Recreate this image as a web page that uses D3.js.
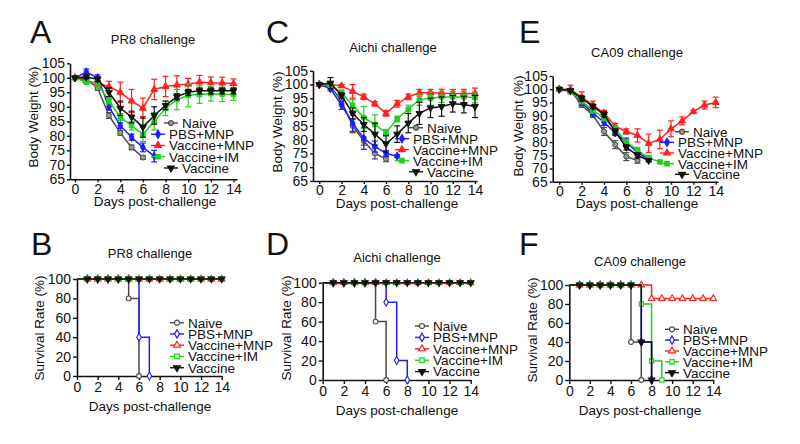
<!DOCTYPE html>
<html>
<head>
<meta charset="utf-8">
<script src="https://d3js.org/d3.v7.min.js"></script>
<style>
body { margin: 0; background: #fff; }
text { font-family: Arial, "Liberation Sans", sans-serif; fill: #111; }
</style>
</head>
<body>
<script>
// groups and colours
const groups = ["Naive", "PBS+MNP", "Vaccine+MNP", "Vaccine+IM", "Vaccine"];
const colors = ["#4a4a4a", "#1c1cff", "#ff1f1f", "#1fd01f", "#111111"];

// tick labels
const dayTicks = [0, 2, 4, 6, 8, 10, 12, 14];
const weightTicks = [65, 70, 75, 80, 85, 90, 95, 100, 105];
const survivalTicks = [0, 20, 40, 60, 80, 100];

// body weight (%) from day 0, one row per group; rows stop on the last day measured
const pr8Mean = [
    [100, 99.5, 96.5, 87, 81, 76, 72.5],
    [100, 102, 100, 90, 83.5, 79.5, 76, 73],
    [100, 99, 98, 97, 95, 92, 89.5, 96, 97, 97.5, 97.8, 98.5, 98.3, 98.2, 98],
    [100, 98.5, 98, 92, 86.5, 83.5, 80.5, 85, 89.5, 92.5, 94, 94.2, 94.5, 94.3, 94.2],
    [100, 100.3, 99.5, 95, 89.5, 86.5, 83, 87, 90.5, 93.5, 95, 95.5, 95.5, 95.5, 95.5]
];
const pr8Sd = [
    [0, 0.5, 0.8, 1, 0.8, 0.8, 0.6],
    [0, 1, 1, 1, 1, 1, 1.5, 2],
    [0, 0.5, 1, 1.8, 3.5, 4, 3.5, 3.5, 3.5, 3.2, 2, 2.3, 2, 2, 1.6],
    [0, 0.6, 0.8, 1, 1.2, 1.5, 2.5, 3, 2.5, 3.5, 4, 3, 2.5, 2.5, 2],
    [0, 0.6, 0.8, 1.5, 2.5, 2, 3.5, 3, 1.5, 1, 1, 1, 1, 1, 1]
];
const aichiMean = [
    [100, 99.5, 94, 85, 79.5, 75, 73],
    [100, 98.5, 92.5, 86, 80.5, 77.5, 75, 74],
    [100, 100, 99.5, 97.5, 95.5, 93, 89.5, 93, 95.5, 97, 97, 96.8, 96.7, 96.7, 96.7],
    [100, 99.8, 97, 92.5, 88, 85.5, 82.5, 87.5, 91, 94.5, 95, 95.5, 95.5, 95.5, 95.3],
    [100, 100.5, 96, 89.5, 85.5, 82, 78.5, 82, 86, 89.5, 91.5, 92, 93, 92.7, 92]
];
const aichiSd = [
    [0, 0.5, 1, 2.5, 1.5, 2, 1],
    [0, 0.8, 1.5, 3, 4, 2, 1, 0.5],
    [0, 0.5, 0.5, 2.5, 1, 0.8, 1, 1.2, 1, 1.2, 1.2, 1.5, 1.5, 1.5, 2],
    [0, 0.5, 1, 2, 4, 3.5, 1.2, 1, 1.5, 2, 2.5, 2, 2, 2, 2],
    [0, 2, 1, 2, 2.5, 4, 3, 3, 3.5, 4, 3.5, 3.5, 3, 3, 4]
];
const ca09Mean = [
    [100, 99.5, 94, 90.2, 84, 79, 74.5, 73],
    [100, 99.5, 95, 91, 87.5, 83.5, 80, 76, 73.5],
    [100, 100, 97, 94, 91, 86, 84, 82.5, 79.5, 81, 85, 88, 91.5, 94, 95],
    [100, 99, 95.5, 92, 89, 85, 80, 77, 74, 72.5],
    [100, 99.5, 96.5, 93.5, 90.5, 84, 78, 75, 73]
];
const ca09Sd = [
    [0, 0.5, 0.8, 0.8, 1.5, 1.5, 1.5, 1],
    [0, 0.5, 1, 1, 1.2, 1, 1.5, 1, 0.8],
    [0, 1.5, 2, 1.5, 1, 1, 1, 2.5, 3.5, 3.5, 3, 1.5, 0.5, 1.5, 2],
    [0, 0.5, 1, 1, 1, 1, 1, 1, 1, 0.5],
    [0, 0.5, 1, 0.8, 1, 1, 1, 1, 0.5]
];

// survival (%) from day 0
const pr8Surv = [
    [100, 100, 100, 100, 100, 80, 0],
    [100, 100, 100, 100, 100, 100, 40, 0],
    [100, 100, 100, 100, 100, 100, 100, 100, 100, 100, 100, 100, 100, 100, 100],
    [100, 100, 100, 100, 100, 100, 100, 100, 100, 100, 100, 100, 100, 100, 100],
    [100, 100, 100, 100, 100, 100, 100, 100, 100, 100, 100, 100, 100, 100, 100]
];
const aichiSurv = [
    [100, 100, 100, 100, 100, 60, 0],
    [100, 100, 100, 100, 100, 100, 80, 20, 0],
    [100, 100, 100, 100, 100, 100, 100, 100, 100, 100, 100, 100, 100, 100, 100],
    [100, 100, 100, 100, 100, 100, 100, 100, 100, 100, 100, 100, 100, 100, 100],
    [100, 100, 100, 100, 100, 100, 100, 100, 100, 100, 100, 100, 100, 100, 100]
];
const ca09Surv = [
    [100, 100, 100, 100, 100, 100, 40, 0],
    [100, 100, 100, 100, 100, 100, 100, 40, 0],
    [100, 100, 100, 100, 100, 100, 100, 100, 85.7, 85.7, 85.7, 85.7, 85.7, 85.7, 85.7],
    [100, 100, 100, 100, 100, 100, 100, 80, 20, 0],
    [100, 100, 100, 100, 100, 100, 100, 40, 0]
];

const svg = d3.select("body").append("svg")
    .attr("width", 800)
    .attr("height", 444);

// marker path for group i
function marker(i, size) {
    const types = [d3.symbolCircle, d3.symbolDiamond, d3.symbolTriangle, d3.symbolSquare, d3.symbolTriangle];
    return d3.symbol().type(types[i]).size(size)();
}
function markerRot(i) { return i == 4 ? " rotate(180)" : ""; }

function styleAxis(a, fs) {
    a.attr("font-size", fs);
    a.selectAll("path.domain").attr("stroke", "#111").attr("stroke-width", 1.6);
    a.selectAll(".tick line").attr("stroke", "#111").attr("stroke-width", 1.4);
    a.selectAll(".tick text").attr("font-size", fs).attr("fill", "#111")
        .style("font-family", "Arial, 'Liberation Sans', sans-serif");
}

function drawLabels(p) {
    svg.append("text").attr("x", p.letter[1]).attr("y", p.letter[2])
        .attr("font-size", 32).text(p.letter[0]);
    svg.append("text").attr("x", p.title[1]).attr("y", p.title[2])
        .attr("text-anchor", "middle").attr("font-size", 13).text(p.title[0]);
    svg.append("text").attr("x", p.xLabel[0]).attr("y", p.xLabel[1])
        .attr("text-anchor", "middle").attr("dy", "0.35em").attr("font-size", 13.5)
        .text("Days post-challenge");
    svg.append("text")
        .attr("transform", "translate(" + p.yLabel[1] + "," + p.yLabel[2] + ") rotate(-90)")
        .attr("text-anchor", "middle").attr("dy", "0.35em").attr("font-size", 13.5)
        .text(p.yLabel[0]);
}

function drawLegend(p, open) {
    const lg = svg.append("g");
    groups.forEach(function(name, i) {
        const tx = p.legend.x + (p.legend.indent ? p.legend.indent[i] : 0);
        const yy = p.legend.y + i * p.legend.step;
        lg.append("line").attr("x1", tx - 18).attr("x2", tx - 4)
            .attr("y1", yy).attr("y2", yy)
            .attr("stroke", colors[i]).attr("stroke-width", 1.4);
        lg.append("path").attr("d", marker(i, open ? 20 : 20))
            .attr("transform", "translate(" + (tx - 11) + "," + yy + ")" + markerRot(i))
            .attr("fill", open && i < 4 ? "#fff" : (i == 0 ? "#999" : colors[i]))
            .attr("stroke", colors[i]).attr("stroke-width", 1.2);
        lg.append("text").attr("x", tx).attr("y", yy).attr("dy", "0.36em")
            .attr("font-size", 13.5).text(name);
    });
}

function drawWeight(p) {
    // day 0 sits at p.x0, day 14 at p.x14, axis line spans p.xRange
    const perDay = (p.x14 - p.x0) / 14;
    const x = d3.scaleLinear()
        .domain([-(p.x0 - p.xRange[0]) / perDay, 14 + (p.xRange[1] - p.x14) / perDay])
        .range(p.xRange);
    const y = d3.scaleLinear().domain([65, 105]).range(p.yRange);

    const ax = svg.append("g").attr("transform", "translate(0," + p.yRange[0] + ")")
        .call(d3.axisBottom(x).tickValues(dayTicks).tickSize(3).tickPadding(1.5).tickSizeOuter(0));
    styleAxis(ax, 14);
    const ay = svg.append("g").attr("transform", "translate(" + p.xRange[0] + ",0)")
        .call(d3.axisLeft(y).tickValues(weightTicks).tickSize(3).tickPadding(2).tickSizeOuter(0));
    styleAxis(ay, 14);

    const line = d3.line().x(function(d, j) { return x(j); }).y(function(d) { return y(d); });
    p.mean.forEach(function(m, i) {
        const g = svg.append("g");
        g.append("path").attr("d", line(m)).attr("fill", "none")
            .attr("stroke", colors[i]).attr("stroke-width", 1.5);
        m.forEach(function(v, j) {
            const s = p.sd[i][j];
            if (s > 0) {
                g.append("line").attr("x1", x(j)).attr("x2", x(j))
                    .attr("y1", y(v - s)).attr("y2", y(v + s))
                    .attr("stroke", colors[i]).attr("stroke-width", 1.2);
                [v - s, v + s].forEach(function(e) {
                    g.append("line").attr("x1", x(j) - 3).attr("x2", x(j) + 3)
                        .attr("y1", y(e)).attr("y2", y(e))
                        .attr("stroke", colors[i]).attr("stroke-width", 1.2);
                });
            }
            g.append("path").attr("d", marker(i, 20))
                .attr("transform", "translate(" + x(j) + "," + y(v) + ")" + markerRot(i))
                .attr("fill", i == 0 ? "#999" : colors[i])
                .attr("stroke", colors[i]).attr("stroke-width", 1);
        });
    });
    drawLegend(p, false);
    drawLabels(p);
}

function drawSurvival(p) {
    const x = d3.scaleLinear().domain([0, 14]).range(p.xRange);
    const y = d3.scaleLinear().domain([0, 100]).range(p.yRange);

    const ax = svg.append("g").attr("transform", "translate(0," + p.yRange[0] + ")")
        .call(d3.axisBottom(x).tickValues(dayTicks).tickSize(4).tickPadding(2).tickSizeOuter(0));
    styleAxis(ax, 14);
    const ay = svg.append("g").attr("transform", "translate(" + p.xRange[0] + ",0)")
        .call(d3.axisLeft(y).tickValues(survivalTicks).tickSize(4).tickPadding(2).tickSizeOuter(0));
    styleAxis(ay, 14);

    const line = d3.line().curve(d3.curveStepAfter)
        .x(function(d, j) { return x(j); }).y(function(d) { return y(d); });
    p.surv.forEach(function(s, i) {
        const g = svg.append("g");
        g.append("path").attr("d", line(s)).attr("fill", "none")
            .attr("stroke", colors[i]).attr("stroke-width", 1.5);
        s.forEach(function(v, j) {
            if (j == 0) return;
            g.append("path").attr("d", marker(i, 18))
                .attr("transform", "translate(" + x(j) + "," + y(v) + ")" + markerRot(i))
                .attr("fill", i == 4 ? colors[i] : "#fff")
                .attr("stroke", colors[i]).attr("stroke-width", 1.1);
        });
    });
    drawLegend(p, true);
    drawLabels(p);
}

drawWeight({
    mean: pr8Mean, sd: pr8Sd,
    xRange: [70, 237], x0: 75, x14: 233.5, yRange: [179.3, 63.3],
    legend: {x: 169, y: 123, step: 11.25, indent: [13, 0, 0, 0, 13]},
    letter: ["A", 30, 43], title: ["PR8 challenge", 153, 44],
    xLabel: [155, 201], yLabel: ["Body Weight (%)", 33, 117]
});
drawWeight({
    mean: aichiMean, sd: aichiSd,
    xRange: [313, 477], x0: 319.3, x14: 475, yRange: [181, 70.7],
    legend: {x: 413, y: 127.7, step: 11, indent: [14, 0, 0, 0, 14]},
    letter: ["C", 266, 43], title: ["Aichi challenge", 393, 52],
    xLabel: [397, 203], yLabel: ["Body Weight (%)", 277, 122]
});
drawWeight({
    mean: ca09Mean, sd: ca09Sd,
    xRange: [552.7, 718], x0: 559.3, x14: 715.7, yRange: [181.7, 76],
    legend: {x: 678, y: 131.7, step: 10.65, indent: [15, 0, 0, 0, 15]},
    letter: ["E", 519, 43], title: ["CA09 challenge", 637, 57],
    xLabel: [637, 203.5], yLabel: ["Body Weight (%)", 518, 126]
});
drawSurvival({
    surv: pr8Surv,
    xRange: [77, 221.7], yRange: [376, 279],
    legend: {x: 188, y: 322.7, step: 11.25},
    letter: ["B", 31, 255], title: ["PR8 challenge", 150, 258],
    xLabel: [150, 406], yLabel: ["Survival Rate (%)", 39, 328]
});
drawSurvival({
    surv: aichiSurv,
    xRange: [322.7, 470.7], yRange: [380, 282.7],
    legend: {x: 433, y: 326, step: 11.4},
    letter: ["D", 266, 255], title: ["Aichi challenge", 397, 262],
    xLabel: [397, 410], yLabel: ["Survival Rate (%)", 286, 328]
});
drawSurvival({
    surv: ca09Surv,
    xRange: [569.3, 713.3], yRange: [380, 285],
    legend: {x: 683, y: 329.3, step: 10.85},
    letter: ["F", 519, 255], title: ["CA09 challenge", 640, 266],
    xLabel: [640, 410], yLabel: ["Survival Rate (%)", 532, 330]
});
</script>
</body>
</html>
